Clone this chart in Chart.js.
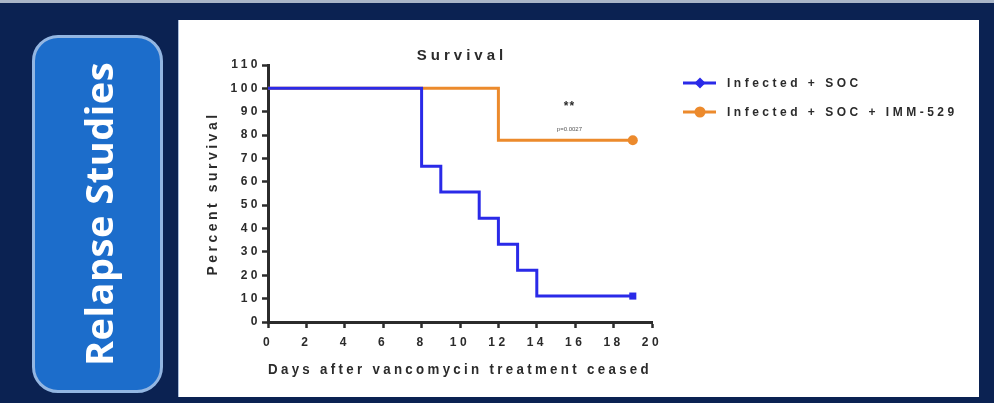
<!DOCTYPE html>
<html>
<head>
<meta charset="utf-8">
<script src="https://cdn.jsdelivr.net/npm/chart.js@4.4.1/dist/chart.umd.min.js"></script>
<style>
  html, body { margin: 0; padding: 0; width: 994px; height: 403px; overflow: hidden; background: #0b2252; }
  #topline { position: absolute; left: 0; top: 0; width: 994px; height: 3px; background: #aab6c8; }
  #panel { position: absolute; left: 178px; top: 20px; width: 801px; height: 377px; background: #fff; border-left: 1px solid #a9bddb; box-sizing: border-box; }
  #badge { position: absolute; left: 32px; top: 35px; width: 131px; height: 358px; background: #1c6dcb; border: 3px solid #93b6e2; border-radius: 26px; box-sizing: border-box; filter: blur(0.6px); }
  #badge span { position: absolute; left: 50%; top: 50%; transform: translate(-50%, -50%) rotate(-90deg); white-space: nowrap; color: #fff; font: bold 38px "Open Sans", sans-serif; letter-spacing: 0.5px; }
  #chart { position: absolute; left: 0; top: 0; filter: blur(0.7px); }
</style>
</head>
<body>
<div id="topline"></div>
<div id="badge"><span>Relapse Studies</span></div>
<div id="panel"></div>
<canvas id="chart" width="994" height="403"></canvas>
<script>
// Kaplan-Meier survival, percent of animals alive per day
const socDays = [0, 8, 9, 11, 12, 13, 14, 19];
const socSurvival = [100, 66.7, 55.6, 44.4, 33.3, 22.2, 11.1, 11.1];
const immDays = [0, 12, 19];
const immSurvival = [100, 77.8, 77.8];

const seriesNames = ['Infected + SOC', 'Infected + SOC + IMM-529'];
const seriesColors = ['#2a2ae8', '#ec8a2c'];
const endMarkers = ['rect', 'circle'];

const yTicks = [0, 10, 20, 30, 40, 50, 60, 70, 80, 90, 100, 110];
const xTicks = [0, 2, 4, 6, 8, 10, 12, 14, 16, 18, 20];

const chartTitle = 'Survival';
const xTitle = 'Days after vancomycin treatment ceased';
const yTitle = 'Percent survival';
const sigStars = '**';
const pValue = 'p=0.0027';
const sigAt = { x: 15.7, starsY: 92, pY: 82.6 };

const FONT = '"Liberation Sans", Arial, sans-serif';
const INK = '#2b2b2b';
const SPACING = '3.5px';

function toPoints(xs, ys) { return xs.map((x, i) => ({ x, y: ys[i] })); }

const lastOnly = ctx => ctx.dataIndex === ctx.dataset.data.length - 1 ? 5 : 0;

const spacedText = {
  id: 'spacedText',
  beforeUpdate(chart) { chart.ctx.letterSpacing = SPACING; },
  beforeLayout(chart) { chart.ctx.letterSpacing = SPACING; },
  beforeDraw(chart) { chart.ctx.letterSpacing = SPACING; },
  afterDraw(chart) {
    const { ctx, chartArea, scales } = chart;
    ctx.save();
    // chart title
    ctx.letterSpacing = '4px';
    ctx.fillStyle = INK;
    ctx.font = 'bold 15px ' + FONT;
    ctx.textAlign = 'center';
    ctx.textBaseline = 'middle';
    ctx.fillText(chartTitle, (chartArea.left + chartArea.right) / 2 + 2, chartArea.top - 9);

    // significance annotation
    ctx.letterSpacing = '1px';
    const sx = scales.x.getPixelForValue(sigAt.x);
    ctx.font = 'bold 12px ' + FONT;
    ctx.fillText(sigStars, sx, scales.y.getPixelForValue(sigAt.starsY));
    ctx.letterSpacing = '0px';
    ctx.font = '6px ' + FONT;
    ctx.fillStyle = '#555';
    ctx.fillText(pValue, sx, scales.y.getPixelForValue(sigAt.pY));

    // legend
    ctx.letterSpacing = SPACING;
    ctx.font = 'bold 12px ' + FONT;
    ctx.textAlign = 'left';
    const lx = chartArea.right + 31;
    chart.data.datasets.forEach((ds, i) => {
      const ly = chartArea.top + 18 + i * 29;
      ctx.strokeStyle = ds.borderColor;
      ctx.lineWidth = 3;
      ctx.beginPath();
      ctx.moveTo(lx, ly);
      ctx.lineTo(lx + 33, ly);
      ctx.stroke();
      ctx.fillStyle = ds.borderColor;
      Chart.helpers.drawPoint(ctx, { pointStyle: i === 0 ? 'rectRot' : 'circle', radius: 5.5, borderWidth: 0 }, lx + 17, ly);
      ctx.fillStyle = INK;
      ctx.fillText(ds.label, lx + 44, ly + 1);
    });
    ctx.restore();
  }
};

function fixedTicks(values) {
  return scale => { scale.ticks = values.map(v => ({ value: v })); };
}

const axisFont = { family: FONT, size: 12, weight: 'bold' };
const titleFont = { family: FONT, size: 14, weight: 'bold' };

new Chart(document.getElementById('chart'), {
  type: 'line',
  data: {
    datasets: [
      {
        label: seriesNames[0],
        data: toPoints(socDays, socSurvival),
        borderColor: seriesColors[0],
        backgroundColor: seriesColors[0],
        borderWidth: 3,
        stepped: 'before',
        pointStyle: endMarkers[0],
        pointRadius: lastOnly,
        pointBorderWidth: 0
      },
      {
        label: seriesNames[1],
        data: toPoints(immDays, immSurvival),
        borderColor: seriesColors[1],
        backgroundColor: seriesColors[1],
        borderWidth: 3,
        stepped: 'before',
        pointStyle: endMarkers[1],
        pointRadius: lastOnly,
        pointBorderWidth: 0
      }
    ]
  },
  options: {
    responsive: false,
    animation: false,
    devicePixelRatio: 1,
    layout: { padding: { left: 205, top: 65, right: 342, bottom: 24 } },
    plugins: {
      legend: { display: false },
      title: { display: false },
      tooltip: { enabled: false }
    },
    scales: {
      x: {
        type: 'linear',
        min: 0,
        max: 20,
        afterBuildTicks: fixedTicks(xTicks),
        afterFit: s => { s.height = 57; },
        grid: { drawOnChartArea: false, drawTicks: true, tickLength: 6, tickWidth: 2.5, tickColor: INK },
        border: { display: true, color: INK, width: 3 },
        ticks: { color: INK, font: axisFont, padding: 7, maxRotation: 0, autoSkip: false },
        title: { display: true, text: xTitle, color: INK, font: titleFont, padding: { top: 0, bottom: 0 } }
      },
      y: {
        type: 'linear',
        min: 0,
        max: 110,
        afterBuildTicks: fixedTicks(yTicks),
        afterFit: s => { s.width = 63; },
        grid: { drawOnChartArea: false, drawTicks: true, tickLength: 6, tickWidth: 2.5, tickColor: INK },
        border: { display: true, color: INK, width: 3 },
        ticks: { color: INK, font: axisFont, padding: 1, autoSkip: false },
        title: { display: true, text: yTitle, color: INK, font: titleFont, padding: { top: 0, bottom: 0 } }
      }
    }
  },
  plugins: [spacedText]
});
</script>
</body>
</html>
